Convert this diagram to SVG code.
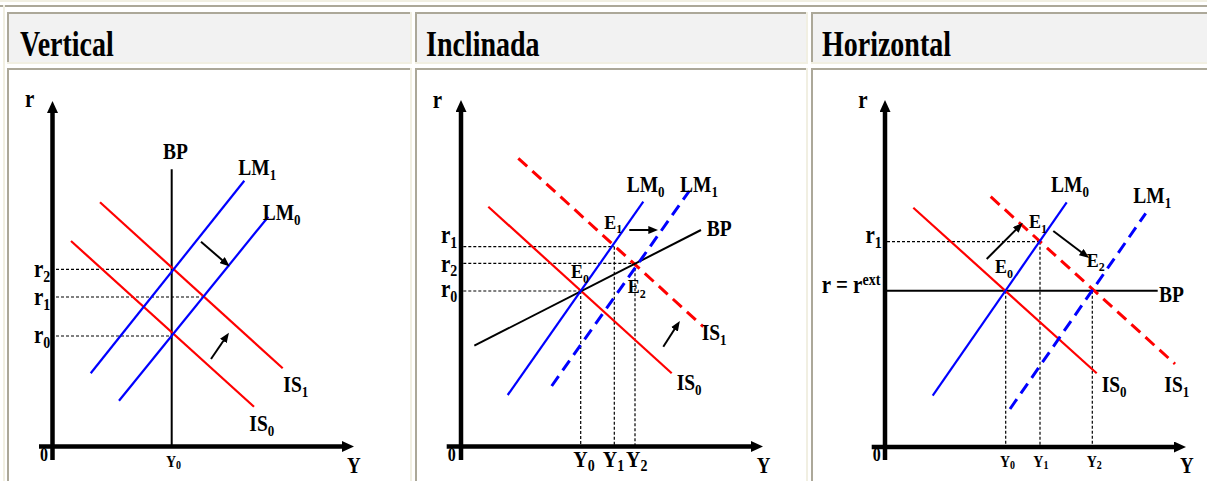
<svg xmlns="http://www.w3.org/2000/svg" width="1207" height="481" viewBox="0 0 1207 481">
<style>
 text{font-family:"Liberation Serif","Times New Roman",serif;font-weight:bold;fill:#000}
 .hd{font-size:28px}
 .lb{font-size:19.5px}
 .sb{font-size:13px}
 .rl{font-size:21px}
 .rs{font-size:14px}
 .el{font-size:18px}
 .es{font-size:12px}
 .ys{font-size:14px}
 .yss{font-size:10px}
 .yb{font-size:20px}
 .ybs{font-size:14px}
 .red{stroke:#ff0000;stroke-width:2.2;fill:none}
 .redd{stroke:#ff0000;stroke-width:3;stroke-dasharray:12 7;fill:none}
 .blue{stroke:#0000ff;stroke-width:2.2;fill:none}
 .blued{stroke:#0000ff;stroke-width:3;stroke-dasharray:12 7;fill:none}
 .blk{stroke:#000;stroke-width:2;fill:none}
 .axis{stroke:#000;stroke-width:4.5;fill:none}
 .dot{stroke:#000;stroke-width:1.2;stroke-dasharray:3 2;fill:none}
 .arr{stroke:#000;stroke-width:2;fill:none}
 .gray{fill:#aca899}
 .light{fill:#f1efe2}
 .hcell{fill:#f2f2f2}
</style>
<defs>
 <marker id="axh" viewBox="0 0 12 11" refX="0" refY="5.5" markerWidth="12" markerHeight="11" markerUnits="userSpaceOnUse" orient="auto"><path d="M0,0 L12,5.5 L0,11 z" fill="#000"/></marker>
 <marker id="ah" viewBox="0 0 10 8" refX="6" refY="4" markerWidth="10" markerHeight="8" markerUnits="userSpaceOnUse" orient="auto"><path d="M0,0 L10,4 L0,8 z" fill="#000"/></marker>
</defs>

<!-- table frame -->
<g id="frame">
 <rect x="0" y="0" width="1207" height="481" fill="#fff"/>
 <rect class="light" x="0" y="0" width="1207" height="2"/>
 <rect class="gray" x="0" y="5" width="1207" height="2"/>
 <rect class="light" x="3" y="5" width="2" height="476"/>
 <!-- cell 1 -->
 <rect class="hcell" x="7" y="12" width="405" height="52"/>
 <rect class="gray" x="7" y="12" width="405" height="2"/>
 <rect class="gray" x="7" y="12" width="2" height="52"/>
 <rect class="light" x="7" y="62" width="405" height="2"/>
 <rect class="light" x="410" y="12" width="2" height="52"/>
 <rect class="gray" x="7" y="68" width="405" height="2"/>
 <rect class="gray" x="7" y="68" width="2" height="413"/>
 <rect class="light" x="410" y="68" width="2" height="413"/>
 <!-- cell 2 -->
 <rect class="hcell" x="415" y="12" width="393" height="52"/>
 <rect class="gray" x="415" y="12" width="393" height="2"/>
 <rect class="gray" x="415" y="12" width="2" height="52"/>
 <rect class="light" x="415" y="62" width="393" height="2"/>
 <rect class="light" x="806" y="12" width="2" height="52"/>
 <rect class="gray" x="415" y="68" width="393" height="2"/>
 <rect class="gray" x="415" y="68" width="2" height="413"/>
 <rect class="light" x="806" y="68" width="2" height="413"/>
 <!-- cell 3 -->
 <rect class="hcell" x="811" y="12" width="400" height="52"/>
 <rect class="gray" x="811" y="12" width="400" height="2"/>
 <rect class="gray" x="811" y="12" width="2" height="52"/>
 <rect class="light" x="811" y="62" width="400" height="2"/>
 <rect class="gray" x="811" y="68" width="400" height="2"/>
 <rect class="gray" x="811" y="68" width="2" height="413"/>
 <text class="hd" transform="translate(20 56) scale(1 1.28)">Vertical</text>
 <text class="hd" transform="translate(426 56) scale(1 1.28)">Inclinada</text>
 <text class="hd" transform="translate(822 56) scale(1 1.28)">Horizontal</text>
</g>

<!-- ===== Panel 1: Vertical ===== -->
<g id="p1-axes">
 <line class="axis" x1="52.5" y1="460" x2="52.5" y2="113"  marker-end="url(#axh)"/>
 <line class="axis" x1="39" y1="446.5" x2="342" y2="446.5" marker-end="url(#axh)"/>
 <text class="lb" style="font-size:21px" transform="translate(25 107) scale(1 1.2)">r</text>
 <text class="lb" style="font-size:16px" transform="translate(40 461) scale(1 1.2)">0</text>
 <text class="lb" style="font-size:19px" transform="translate(347 473) scale(1 1.2)">Y</text>
 <text class="ys" transform="translate(166 467) scale(1 1.2)">Y<tspan class="yss" dy="2">0</tspan></text>
</g>
<g id="p1-guides">
 <line class="dot" x1="56" y1="269.3" x2="171.7" y2="269.3"/>
 <line class="dot" x1="56" y1="297" x2="201.7" y2="297"/>
 <line class="dot" x1="56" y1="336" x2="171.7" y2="336"/>
 <text class="rl" transform="translate(34 277) scale(1 1.15)">r<tspan class="rs" dy="4">2</tspan></text>
 <text class="rl" transform="translate(34 305) scale(1 1.15)">r<tspan class="rs" dy="4">1</tspan></text>
 <text class="rl" transform="translate(34 343.3) scale(1 1.15)">r<tspan class="rs" dy="4">0</tspan></text>
</g>
<g id="p1-BP">
 <line class="blk" x1="171.7" y1="169.3" x2="171.7" y2="446.5"/>
 <text class="lb" transform="translate(163 159) scale(1 1.2)">BP</text>
</g>
<g id="p1-IS0">
 <line class="red" x1="71" y1="241" x2="254" y2="406.7"/>
 <text class="lb" transform="translate(249.3 430.7) scale(1 1.2)">IS<tspan class="sb" dy="4">0</tspan></text>
</g>
<g id="p1-IS1">
 <line class="red" x1="100" y1="202.3" x2="282.7" y2="368.3"/>
 <text class="lb" transform="translate(283.3 392) scale(1 1.2)">IS<tspan class="sb" dy="4">1</tspan></text>
</g>
<g id="p1-LM0">
 <line class="blue" x1="119" y1="400.7" x2="268.3" y2="216.7"/>
 <text class="lb" transform="translate(262.7 220) scale(1 1.2)">LM<tspan class="sb" dy="4">0</tspan></text>
</g>
<g id="p1-LM1">
 <line class="blue" x1="90.7" y1="373.3" x2="244.3" y2="180.7"/>
 <text class="lb" transform="translate(238.3 175) scale(1 1.2)">LM<tspan class="sb" dy="4">1</tspan></text>
</g>

<!-- ===== Panel 2: Inclinada ===== -->
<g id="p2-axes">
 <line class="axis" x1="461" y1="460" x2="461" y2="112" marker-end="url(#axh)"/>
 <line class="axis" x1="446.7" y1="446.5" x2="751" y2="446.5" marker-end="url(#axh)"/>
 <text class="lb" style="font-size:21px" transform="translate(432.7 107.7) scale(1 1.2)">r</text>
 <text class="lb" style="font-size:16px" transform="translate(447.7 461) scale(1 1.2)">0</text>
 <text class="lb" style="font-size:19px" transform="translate(756.7 473) scale(1 1.2)">Y</text>
 <text class="yb" transform="translate(573.3 467) scale(1 1.2)">Y<tspan class="ybs" dy="3">0</tspan></text>
 <text class="yb" transform="translate(602.7 467) scale(1 1.2)">Y<tspan class="ybs" dy="3">1</tspan></text>
 <text class="yb" transform="translate(626 467) scale(1 1.2)">Y<tspan class="ybs" dy="3">2</tspan></text>
</g>
<g id="p2-guides">
 <line class="dot" x1="463.3" y1="246.7" x2="614.3" y2="246.7"/>
 <line class="dot" x1="463.3" y1="263.3" x2="635" y2="263.3"/>
 <line class="dot" x1="463.3" y1="291" x2="580.7" y2="291"/>
 <line class="dot" x1="580.7" y1="291" x2="580.7" y2="446"/>
 <line class="dot" x1="614.3" y1="246.7" x2="614.3" y2="446"/>
 <line class="dot" x1="635" y1="263.3" x2="635" y2="446"/>
 <text class="rl" transform="translate(441 243.3) scale(1 1.15)">r<tspan class="rs" dy="4">1</tspan></text>
 <text class="rl" transform="translate(441 271.7) scale(1 1.15)">r<tspan class="rs" dy="4">2</tspan></text>
 <text class="rl" transform="translate(441 297.3) scale(1 1.15)">r<tspan class="rs" dy="4">0</tspan></text>
</g>
<g id="p2-IS0">
 <line class="red" x1="488.3" y1="206.7" x2="671.7" y2="373.3"/>
 <text class="lb" transform="translate(676.7 390) scale(1 1.2)">IS<tspan class="sb" dy="4">0</tspan></text>
</g>
<g id="p2-IS1">
 <line class="redd" x1="518.3" y1="158.3" x2="703.3" y2="326.7"/>
 <text class="lb" transform="translate(701.7 340) scale(1 1.2)">IS<tspan class="sb" dy="4">1</tspan></text>
</g>
<g id="p2-BP">
 <line class="blk" x1="474.3" y1="345.7" x2="701" y2="230"/>
 <text class="lb" transform="translate(706.7 235.7) scale(1 1.2)">BP</text>
</g>
<g id="p2-LM0">
 <line class="blue" x1="507.7" y1="395" x2="643.3" y2="201.7"/>
 <text class="lb" transform="translate(626.7 191.7) scale(1 1.2)">LM<tspan class="sb" dy="4">0</tspan></text>
</g>
<g id="p2-LM1">
 <line class="blued" x1="551.7" y1="386" x2="689.3" y2="191"/>
 <text class="lb" transform="translate(680 191.7) scale(1 1.2)">LM<tspan class="sb" dy="4">1</tspan></text>
</g>
<g id="p2-E">
 <text class="el" transform="translate(604.3 229) scale(1 1.05)">E<tspan class="es" dy="4">1</tspan></text>
 <text class="el" transform="translate(571 278.3) scale(1 1.05)">E<tspan class="es" dy="4">0</tspan></text>
 <text class="el" transform="translate(627.7 293.3) scale(1 1.05)">E<tspan class="es" dy="4">2</tspan></text>
</g>

<!-- ===== Panel 3: Horizontal ===== -->
<g id="p3-axes">
 <line class="axis" x1="885" y1="460" x2="885" y2="112" marker-end="url(#axh)"/>
 <line class="axis" x1="871.7" y1="447" x2="1174" y2="447" marker-end="url(#axh)"/>
 <text class="lb" style="font-size:21px" transform="translate(858.3 107.7) scale(1 1.2)">r</text>
 <text class="lb" style="font-size:16px" transform="translate(872.7 461) scale(1 1.2)">0</text>
 <text class="lb" style="font-size:19px" transform="translate(1180 473) scale(1 1.2)">Y</text>
 <text class="ys" transform="translate(1000 467) scale(1 1.2)">Y<tspan class="yss" dy="2">0</tspan></text>
 <text class="ys" transform="translate(1033.3 467) scale(1 1.2)">Y<tspan class="yss" dy="2">1</tspan></text>
 <text class="ys" transform="translate(1086.7 467) scale(1 1.2)">Y<tspan class="yss" dy="2">2</tspan></text>
</g>
<g id="p3-guides">
 <line class="dot" x1="887" y1="241.7" x2="1040" y2="241.7"/>
 <line class="dot" x1="1040" y1="241.7" x2="1040" y2="446"/>
 <line class="dot" x1="1005.7" y1="290.7" x2="1005.7" y2="446"/>
 <line class="dot" x1="1092.3" y1="290.7" x2="1092.3" y2="446"/>
 <text class="rl" transform="translate(865.5 243.3) scale(1 1.15)">r<tspan class="rs" dy="4">1</tspan></text>
 <text class="lb" style="font-size:21px" transform="translate(821.7 293.3) scale(1 1.2)">r = r<tspan style="font-size:14px" dy="-7">ext</tspan></text>
</g>
<g id="p3-BP">
 <line class="blk" x1="887" y1="290.7" x2="1157.7" y2="290.7"/>
 <text class="lb" transform="translate(1159 302.3) scale(1 1.2)">BP</text>
</g>
<g id="p3-IS0">
 <line class="red" x1="913.3" y1="207.7" x2="1096.7" y2="373.3"/>
 <text class="lb" transform="translate(1101.7 391.7) scale(1 1.2)">IS<tspan class="sb" dy="4">0</tspan></text>
</g>
<g id="p3-IS1">
 <line class="redd" x1="990.7" y1="196.7" x2="1175" y2="364"/>
 <text class="lb" transform="translate(1164.3 391.7) scale(1 1.2)">IS<tspan class="sb" dy="4">1</tspan></text>
</g>
<g id="p3-LM0">
 <line class="blue" x1="932.7" y1="395.7" x2="1066.7" y2="202.3"/>
 <text class="lb" transform="translate(1051 191.7) scale(1 1.2)">LM<tspan class="sb" dy="4">0</tspan></text>
</g>
<g id="p3-LM1">
 <line class="blued" x1="1010" y1="409" x2="1145.7" y2="213.3"/>
 <text class="lb" transform="translate(1133.3 202.7) scale(1 1.2)">LM<tspan class="sb" dy="4">1</tspan></text>
</g>
<g id="p3-E">
 <text class="el" transform="translate(1029 228.3) scale(1 1.05)">E<tspan class="es" dy="4">1</tspan></text>
 <text class="el" transform="translate(995 273.3) scale(1 1.05)">E<tspan class="es" dy="4">0</tspan></text>
 <text class="el" transform="translate(1086.7 266.7) scale(1 1.05)">E<tspan class="es" dy="4">2</tspan></text>
</g>

<!-- connectors: shift arrows -->
<g id="connectors">
 <line class="arr" x1="201" y1="241.7" x2="226.7" y2="264" marker-end="url(#ah)"/>
 <line class="arr" x1="211" y1="359" x2="226.7" y2="336" marker-end="url(#ah)"/>
 <line class="arr" x1="629.3" y1="230" x2="654.3" y2="230" marker-end="url(#ah)"/>
 <line class="arr" x1="663.3" y1="346.7" x2="677.7" y2="324.3" marker-end="url(#ah)"/>
 <line class="arr" x1="986.7" y1="259" x2="1020" y2="225.7" marker-end="url(#ah)"/>
 <line class="arr" x1="1053.3" y1="231" x2="1086" y2="255.7" marker-end="url(#ah)"/>
</g>
</svg>
